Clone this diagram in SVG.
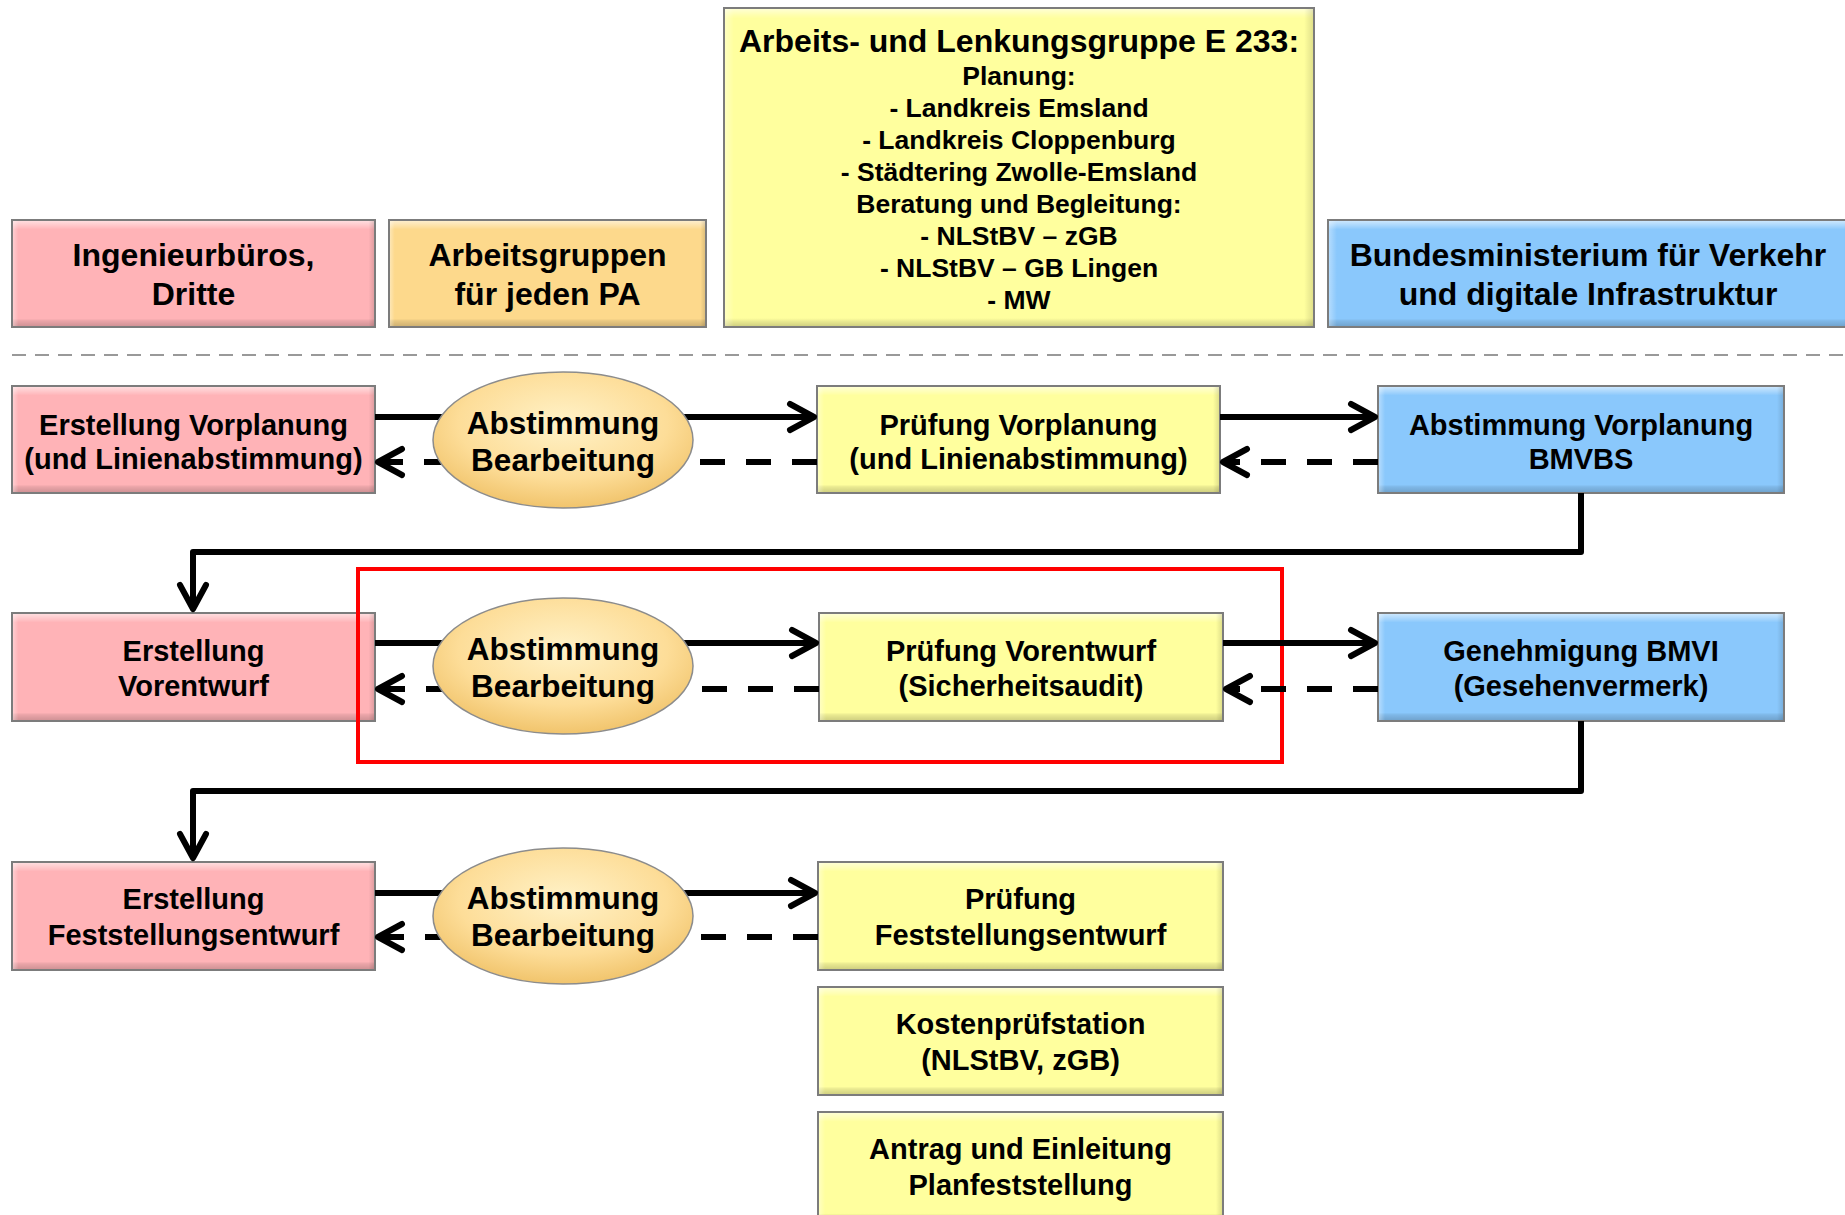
<svg xmlns="http://www.w3.org/2000/svg" width="1845" height="1215" viewBox="0 0 1845 1215">
<style>
.t{font-family:"Liberation Sans",Arial,sans-serif;font-weight:bold;text-anchor:middle;fill:#000}
.f32{font-size:32px}.f29{font-size:29px}.f26{font-size:26.5px}.f31{font-size:31.5px}
.box{stroke:#7c7c7c;stroke-width:2}
.pink{fill:#FFB3B7}.tan{fill:#FDD98C}.yel{fill:#FFFF9E}.blue{fill:#8AC8FC}
.bv{fill:url(#bevV)}.bvl{fill:url(#bevVL)}.bh{fill:url(#bevH)}
.ell{fill:url(#ellG);stroke:#8c8c8c;stroke-width:1.5}
.ln{fill:none;stroke:#000;stroke-width:6;stroke-linejoin:round}
.dash{stroke-dasharray:25 21}
</style>
<defs>
<linearGradient id="bevV" x1="0" y1="0" x2="0" y2="1">
<stop offset="0" stop-color="#fff" stop-opacity="0.55"/>
<stop offset="0.06" stop-color="#fff" stop-opacity="0.15"/>
<stop offset="0.08" stop-color="#fff" stop-opacity="0"/>
<stop offset="0.93" stop-color="#000" stop-opacity="0"/>
<stop offset="0.95" stop-color="#000" stop-opacity="0.08"/>
<stop offset="1" stop-color="#000" stop-opacity="0.18"/>
</linearGradient>
<linearGradient id="bevVL" x1="0" y1="0" x2="0" y2="1">
<stop offset="0" stop-color="#fff" stop-opacity="0.55"/>
<stop offset="0.02" stop-color="#fff" stop-opacity="0.15"/>
<stop offset="0.03" stop-color="#fff" stop-opacity="0"/>
<stop offset="0.975" stop-color="#000" stop-opacity="0"/>
<stop offset="0.985" stop-color="#000" stop-opacity="0.08"/>
<stop offset="1" stop-color="#000" stop-opacity="0.18"/>
</linearGradient>
<linearGradient id="bevH" x1="0" y1="0" x2="1" y2="0">
<stop offset="0" stop-color="#fff" stop-opacity="0.35"/>
<stop offset="0.015" stop-color="#fff" stop-opacity="0"/>
<stop offset="0.985" stop-color="#000" stop-opacity="0"/>
<stop offset="1" stop-color="#000" stop-opacity="0.12"/>
</linearGradient>
<radialGradient id="ellG" cx="0.5" cy="0.38" r="0.62">
<stop offset="0" stop-color="#FFF2C8"/>
<stop offset="0.65" stop-color="#FDDD98"/>
<stop offset="1" stop-color="#F1C46C"/>
</radialGradient>
<marker id="ah" markerUnits="userSpaceOnUse" markerWidth="60" markerHeight="60" viewBox="-30 -30 60 60" refX="0" refY="0" orient="auto" overflow="visible">
<path d="M-24,-13 L0,0 L-24,13" fill="none" stroke="#000" stroke-width="6" stroke-linecap="round" stroke-linejoin="round" stroke-dasharray="none"/>
</marker>
</defs>
<rect x="0" y="0" width="1845" height="1215" fill="#fff"/>

<line id="separator" x1="12" y1="355" x2="1845" y2="355" stroke="#999" stroke-width="2" stroke-dasharray="14 9"/>

<g id="n_ingenieur">
<rect class="box pink" x="12" y="220" width="363" height="107"/>
<rect class="bv" x="13" y="221" width="361" height="105"/><rect class="bh" x="13" y="221" width="361" height="105"/>
<text class="t f32" x="193.5" y="266">Ingenieurbüros,</text>
<text class="t f32" x="193.5" y="305">Dritte</text>
</g>
<g id="n_arbeitsgruppen">
<rect class="box tan" x="389" y="220" width="317" height="107"/>
<rect class="bv" x="390" y="221" width="315" height="105"/><rect class="bh" x="390" y="221" width="315" height="105"/>
<text class="t f32" x="547.5" y="266">Arbeitsgruppen</text>
<text class="t f32" x="547.5" y="305">für jeden PA</text>
</g>
<g id="n_lenkungsgruppe">
<rect class="box yel" x="724" y="8" width="590" height="319"/>
<rect class="bvl" x="725" y="9" width="588" height="317"/><rect class="bh" x="725" y="9" width="588" height="317"/>
<text class="t f32" x="1019" y="52">Arbeits- und Lenkungsgruppe E 233:</text>
<text class="t f26" x="1019" y="85">Planung:</text>
<text class="t f26" x="1019" y="117">- Landkreis Emsland</text>
<text class="t f26" x="1019" y="149">- Landkreis Cloppenburg</text>
<text class="t f26" x="1019" y="181">- Städtering Zwolle-Emsland</text>
<text class="t f26" x="1019" y="213">Beratung und Begleitung:</text>
<text class="t f26" x="1019" y="245">- NLStBV – zGB</text>
<text class="t f26" x="1019" y="277">- NLStBV – GB Lingen</text>
<text class="t f26" x="1019" y="309">- MW</text>
</g>
<g id="n_bmvi_top">
<rect class="box blue" x="1328" y="220" width="525" height="107"/>
<rect class="bv" x="1329" y="221" width="523" height="105"/><rect class="bh" x="1329" y="221" width="523" height="105"/>
<text class="t f32" x="1588" y="266">Bundesministerium für Verkehr</text>
<text class="t f32" x="1588" y="305">und digitale Infrastruktur</text>
</g>

<g id="n_erstellung_vorplanung">
<rect class="box pink" x="12" y="386" width="363" height="107"/>
<rect class="bv" x="13" y="387" width="361" height="105"/><rect class="bh" x="13" y="387" width="361" height="105"/>
<text class="t f29" x="193.5" y="435">Erstellung Vorplanung</text>
<text class="t f29" x="193.5" y="469">(und Linienabstimmung)</text>
</g>
<g id="n_pruefung_vorplanung">
<rect class="box yel" x="817" y="386" width="403" height="107"/>
<rect class="bv" x="818" y="387" width="401" height="105"/><rect class="bh" x="818" y="387" width="401" height="105"/>
<text class="t f29" x="1018.5" y="435">Prüfung Vorplanung</text>
<text class="t f29" x="1018.5" y="469">(und Linienabstimmung)</text>
</g>
<g id="n_abstimmung_bmvbs">
<rect class="box blue" x="1378" y="386" width="406" height="107"/>
<rect class="bv" x="1379" y="387" width="404" height="105"/><rect class="bh" x="1379" y="387" width="404" height="105"/>
<text class="t f29" x="1581" y="435">Abstimmung Vorplanung</text>
<text class="t f29" x="1581" y="469">BMVBS</text>
</g>

<g id="n_erstellung_vorentwurf">
<rect class="box pink" x="12" y="613" width="363" height="108"/>
<rect class="bv" x="13" y="614" width="361" height="106"/><rect class="bh" x="13" y="614" width="361" height="106"/>
<text class="t f29" x="193.5" y="661">Erstellung</text>
<text class="t f29" x="193.5" y="696">Vorentwurf</text>
</g>
<g id="n_pruefung_vorentwurf">
<rect class="box yel" x="819" y="613" width="404" height="108"/>
<rect class="bv" x="820" y="614" width="402" height="106"/><rect class="bh" x="820" y="614" width="402" height="106"/>
<text class="t f29" x="1021" y="661">Prüfung Vorentwurf</text>
<text class="t f29" x="1021" y="696">(Sicherheitsaudit)</text>
</g>
<g id="n_genehmigung_bmvi">
<rect class="box blue" x="1378" y="613" width="406" height="108"/>
<rect class="bv" x="1379" y="614" width="404" height="106"/><rect class="bh" x="1379" y="614" width="404" height="106"/>
<text class="t f29" x="1581" y="661">Genehmigung BMVI</text>
<text class="t f29" x="1581" y="696">(Gesehenvermerk)</text>
</g>

<g id="n_erstellung_feststellungsentwurf">
<rect class="box pink" x="12" y="862" width="363" height="108"/>
<rect class="bv" x="13" y="863" width="361" height="106"/><rect class="bh" x="13" y="863" width="361" height="106"/>
<text class="t f29" x="193.5" y="909">Erstellung</text>
<text class="t f29" x="193.5" y="945">Feststellungsentwurf</text>
</g>
<g id="n_pruefung_feststellungsentwurf">
<rect class="box yel" x="818" y="862" width="405" height="108"/>
<rect class="bv" x="819" y="863" width="403" height="106"/><rect class="bh" x="819" y="863" width="403" height="106"/>
<text class="t f29" x="1020.5" y="909">Prüfung</text>
<text class="t f29" x="1020.5" y="945">Feststellungsentwurf</text>
</g>
<g id="n_kostenpruefstation">
<rect class="box yel" x="818" y="987" width="405" height="108"/>
<rect class="bv" x="819" y="988" width="403" height="106"/><rect class="bh" x="819" y="988" width="403" height="106"/>
<text class="t f29" x="1020.5" y="1034">Kostenprüfstation</text>
<text class="t f29" x="1020.5" y="1070">(NLStBV, zGB)</text>
</g>
<g id="n_antrag">
<rect class="box yel" x="818" y="1112" width="405" height="110"/>
<rect class="bv" x="819" y="1113" width="403" height="108"/><rect class="bh" x="819" y="1113" width="403" height="108"/>
<text class="t f29" x="1020.5" y="1159">Antrag und Einleitung</text>
<text class="t f29" x="1020.5" y="1195">Planfeststellung</text>
</g>

<rect id="highlight" x="358" y="569" width="924" height="193" fill="none" stroke="#ff0000" stroke-width="4"/>

<g id="connectors">
<path class="ln" d="M375,417 H814" marker-end="url(#ah)"/>
<path class="ln dash" d="M817,462 H378" marker-end="url(#ah)"/>
<path class="ln" d="M1220,417 H1375" marker-end="url(#ah)"/>
<path class="ln dash" d="M1378,462 H1223" marker-end="url(#ah)"/>
<path class="ln" d="M1581,493 V552 H193 V609" marker-end="url(#ah)"/>
<path class="ln" d="M375,643 H816" marker-end="url(#ah)"/>
<path class="ln dash" d="M819,689 H378" marker-end="url(#ah)"/>
<path class="ln" d="M1223,643 H1375" marker-end="url(#ah)"/>
<path class="ln dash" d="M1378,689 H1226" marker-end="url(#ah)"/>
<path class="ln" d="M1581,721 V791 H193 V858" marker-end="url(#ah)"/>
<path class="ln" d="M375,893 H815" marker-end="url(#ah)"/>
<path class="ln dash" d="M818,937 H378" marker-end="url(#ah)"/>
</g>

<g id="n_abstimmung_1">
<ellipse class="ell" cx="563" cy="440" rx="130" ry="68"/>
<text class="t f31" x="563" y="434">Abstimmung</text>
<text class="t f31" x="563" y="471">Bearbeitung</text>
</g>
<g id="n_abstimmung_2">
<ellipse class="ell" cx="563" cy="666" rx="130" ry="68"/>
<text class="t f31" x="563" y="660">Abstimmung</text>
<text class="t f31" x="563" y="697">Bearbeitung</text>
</g>
<g id="n_abstimmung_3">
<ellipse class="ell" cx="563" cy="916" rx="130" ry="68"/>
<text class="t f31" x="563" y="909">Abstimmung</text>
<text class="t f31" x="563" y="946">Bearbeitung</text>
</g>
</svg>
